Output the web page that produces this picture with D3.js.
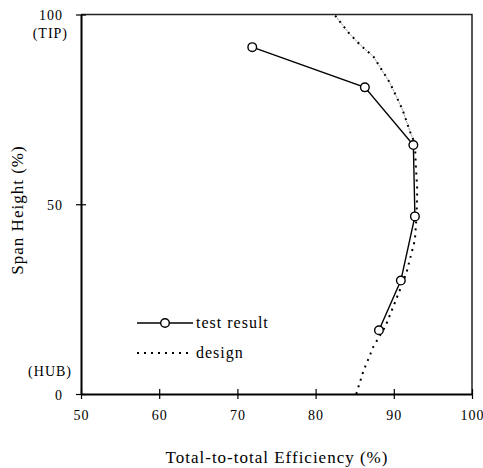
<!DOCTYPE html>
<html>
<head>
<meta charset="utf-8">
<script src="https://cdn.jsdelivr.net/npm/d3@7"></script>
<style>
  body { margin: 0; background: #fff; }
  text { font-family: "Liberation Serif", "Times New Roman", serif; fill: #000; }
</style>
</head>
<body>
<div id="chart"></div>
<script>
//Chart data//
//x ticks (efficiency %)
var xTicks = [50, 60, 70, 80, 90, 100];
//y ticks (span %)
var yTicks = [0, 50, 100];
//Test result: efficiency at each span height
var testEff  = [71.9, 86.3, 92.5, 92.7, 90.9, 88.1];
var testSpan = [91.4, 80.8, 65.6, 46.8, 29.9, 16.8];
//Design curve
var designEff  = [85.2, 86.1, 87.4, 88.9, 90.7, 91.6, 92.7, 92.9, 93.0, 92.8, 92.7, 92.1, 91.1, 89.5, 87.4, 85.8, 84.3, 82.4];
var designSpan = [0, 6, 12.5, 17.7, 27, 31.8, 40.6, 46.7, 53.8, 60.8, 66, 69, 75, 82, 88.9, 91.8, 95, 100];

var w = 483, h = 468;
var x = d3.scaleLinear().domain([50, 100]).range([81, 472]);
var y = d3.scaleLinear().domain([0, 100]).range([394, 14.5]);

var svg = d3.select("#chart")
  .append("svg")
  .attr("width", w)
  .attr("height", h);

var testData = testEff.map(function(d, i){ return {x: d, y: testSpan[i]}; });
var designData = designEff.map(function(d, i){ return {x: d, y: designSpan[i]}; });

var line = d3.line()
  .x(function(d){ return x(d.x); })
  .y(function(d){ return y(d.y); });

//Frame (top and right)
svg.append("path")
  .attr("d", "M" + x(50) + "," + y(100) + "H" + x(100) + "V" + y(0))
  .attr("fill", "none")
  .attr("stroke", "#222")
  .attr("stroke-width", 1.5);

//Axes
var xAxis = svg.append("g")
  .attr("transform", "translate(0," + y(0) + ")")
  .call(d3.axisBottom(x).tickValues(xTicks).tickSize(0).tickPadding(0).tickFormat(""));
xAxis.select(".domain").attr("stroke", "#000").attr("stroke-width", 2);
xAxis.selectAll(".tick line").remove();
xAxis.selectAll(".tick").append("line")
  .attr("y1", -5).attr("y2", 5)
  .attr("stroke", "#000").attr("stroke-width", 1.2);
xAxis.selectAll(".tick").append("text")
  .attr("y", 26)
  .attr("text-anchor", "middle")
  .style("font-size", "14px")
  .style("letter-spacing", "1px")
  .text(function(d){ return d; });

var yAxis = svg.append("g")
  .attr("transform", "translate(" + x(50) + ",0)")
  .call(d3.axisLeft(y).tickValues(yTicks).tickSize(0).tickPadding(0).tickFormat(""));
yAxis.select(".domain").attr("stroke", "#000").attr("stroke-width", 2);
yAxis.selectAll(".tick line").remove();
yAxis.selectAll(".tick").append("line")
  .attr("x1", -5).attr("x2", 5)
  .attr("stroke", "#000").attr("stroke-width", 1.2);
yAxis.selectAll(".tick").append("text")
  .attr("x", -18)
  .attr("y", 5)
  .attr("text-anchor", "end")
  .style("font-size", "14px")
  .style("letter-spacing", "1px")
  .text(function(d){ return d; });

//TIP / HUB labels
svg.append("text")
  .attr("x", 68).attr("y", y(100) + 23)
  .attr("text-anchor", "end")
  .style("font-size", "14px")
  .style("letter-spacing", "1px")
  .text("(TIP)");
svg.append("text")
  .attr("x", 72).attr("y", y(0) - 18)
  .attr("text-anchor", "end")
  .style("font-size", "14px")
  .style("letter-spacing", "1px")
  .text("(HUB)");

//Axis titles
svg.append("text")
  .attr("x", 277).attr("y", 463)
  .attr("text-anchor", "middle")
  .style("font-size", "17px")
  .style("letter-spacing", "1px")
  .text("Total-to-total Efficiency (%)");
svg.append("text")
  .attr("transform", "translate(23," + 210 + ") rotate(-90)")
  .attr("text-anchor", "middle")
  .style("font-size", "17px")
  .style("letter-spacing", "1px")
  .text("Span Height (%)");

//Design curve (grey dashed upper part + black dotted)
svg.append("path")
  .datum(designData.filter(function(d){ return d.y >= 66; }))
  .attr("d", line)
  .attr("fill", "none")
  .attr("stroke", "#888")
  .attr("stroke-width", 0.8)
  .attr("stroke-dasharray", "3,4");
svg.append("path")
  .datum(designData)
  .attr("d", line)
  .attr("fill", "none")
  .attr("stroke", "#000")
  .attr("stroke-width", 2)
  .attr("stroke-dasharray", "2,5");

//Test result
svg.append("path")
  .datum(testData)
  .attr("d", line)
  .attr("fill", "none")
  .attr("stroke", "#000")
  .attr("stroke-width", 1.4);
svg.selectAll("circle.test")
  .data(testData)
  .enter()
  .append("circle")
  .attr("class", "test")
  .attr("cx", function(d){ return x(d.x); })
  .attr("cy", function(d){ return y(d.y); })
  .attr("r", 4.3)
  .attr("fill", "#fff")
  .attr("stroke", "#000")
  .attr("stroke-width", 1.4);

//Legend
var lg = svg.append("g");
lg.append("line")
  .attr("x1", 137).attr("x2", 193).attr("y1", 323).attr("y2", 323)
  .attr("stroke", "#000").attr("stroke-width", 1.4);
lg.append("circle")
  .attr("cx", 165).attr("cy", 323).attr("r", 4.3)
  .attr("fill", "#fff").attr("stroke", "#000").attr("stroke-width", 1.4);
lg.append("text")
  .attr("x", 196).attr("y", 328)
  .style("font-size", "16px")
  .style("letter-spacing", "1px")
  .text("test result");
lg.append("line")
  .attr("x1", 137).attr("x2", 190).attr("y1", 353).attr("y2", 353)
  .attr("stroke", "#000").attr("stroke-width", 2)
  .attr("stroke-dasharray", "2,5");
lg.append("text")
  .attr("x", 196).attr("y", 358)
  .style("font-size", "16px")
  .style("letter-spacing", "1px")
  .text("design");
</script>
</body>
</html>
